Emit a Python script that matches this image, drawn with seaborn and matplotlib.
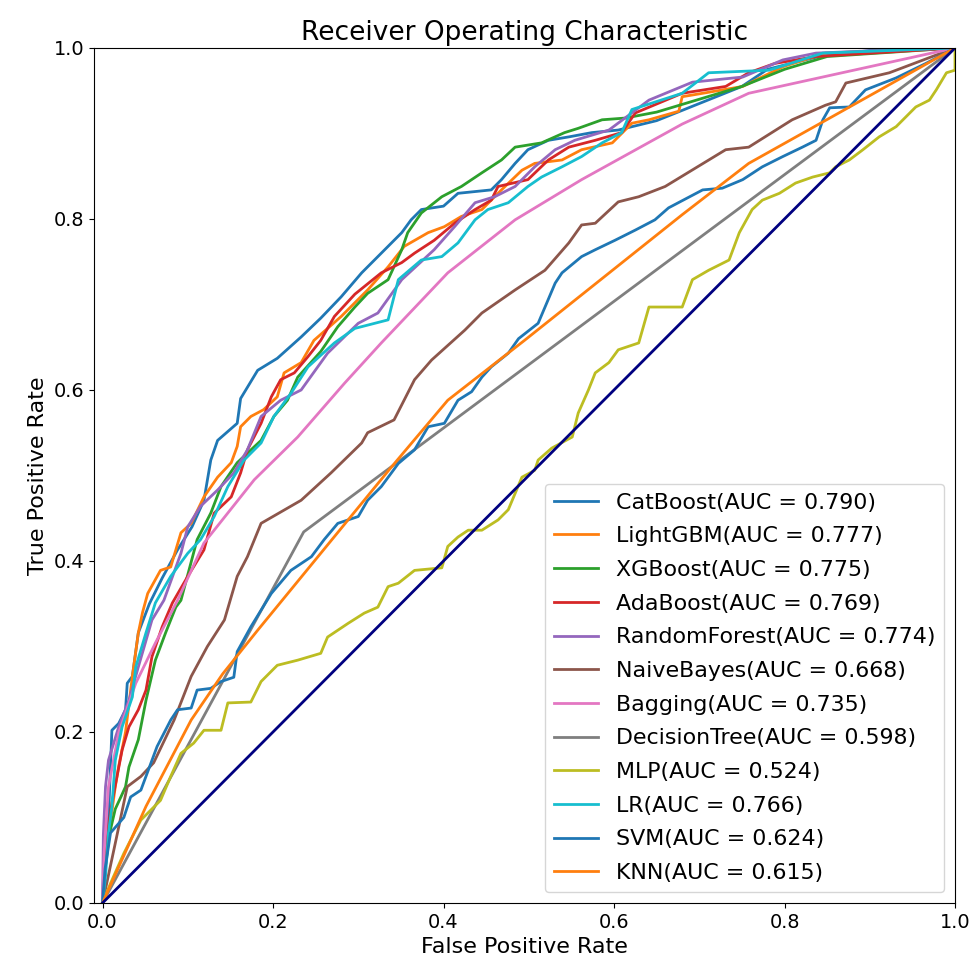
import numpy as np
import pandas as pd
import matplotlib
matplotlib.use("Agg")
import matplotlib.pyplot as plt
import seaborn as sns

# ROC points (fpr, tpr per model)
models = ["CatBoost", "LightGBM", "XGBoost", "AdaBoost", "RandomForest", "NaiveBayes",
          "Bagging", "DecisionTree", "MLP", "LR", "SVM", "KNN"]
aucs = [0.790, 0.777, 0.775, 0.769, 0.774, 0.668, 0.735, 0.598, 0.524, 0.766, 0.624, 0.615]

cat_fpr = [0, 0.002, 0.006, 0.011, 0.019, 0.027, 0.029, 0.035, 0.042, 0.055, 0.07, 0.088, 0.105, 0.119, 0.127,
           0.135, 0.158, 0.162, 0.182, 0.205, 0.233, 0.256, 0.28, 0.304, 0.327, 0.351, 0.362, 0.374, 0.40,
           0.417, 0.456, 0.468, 0.484, 0.499, 0.523, 0.547, 0.574, 0.605, 0.65, 0.70, 0.75, 0.78, 0.84, 0.9, 1]
cat_tpr = [0, 0.05, 0.074, 0.202, 0.21, 0.226, 0.257, 0.265, 0.316, 0.35, 0.38, 0.413, 0.44, 0.471, 0.518,
           0.541, 0.561, 0.59, 0.623, 0.637, 0.662, 0.684, 0.709, 0.737, 0.76, 0.784, 0.799, 0.811, 0.815,
           0.83, 0.834, 0.846, 0.865, 0.881, 0.892, 0.896, 0.901, 0.904, 0.915, 0.935, 0.955, 0.975, 0.99, 0.997, 1]

lgb_fpr = [0, 0.004, 0.01, 0.015, 0.019, 0.027, 0.035, 0.042, 0.047, 0.053, 0.068, 0.08, 0.092, 0.104, 0.119,
           0.135, 0.151, 0.158, 0.162, 0.174, 0.189, 0.205, 0.213, 0.233, 0.248, 0.28, 0.311, 0.335, 0.354,
           0.382, 0.401, 0.421, 0.445, 0.468, 0.492, 0.507, 0.539, 0.562, 0.598, 0.621, 0.641, 0.676, 0.68,
           0.704, 0.751, 0.798, 0.848, 1]
lgb_tpr = [0, 0.05, 0.1, 0.136, 0.16, 0.2, 0.265, 0.316, 0.34, 0.362, 0.389, 0.393, 0.433, 0.444, 0.475,
           0.498, 0.515, 0.534, 0.557, 0.569, 0.577, 0.592, 0.62, 0.632, 0.658, 0.686, 0.717, 0.744, 0.768,
           0.784, 0.791, 0.803, 0.811, 0.834, 0.857, 0.865, 0.869, 0.881, 0.889, 0.912, 0.916, 0.926, 0.943,
           0.947, 0.955, 0.978, 0.994, 1]

xgb_fpr = [0, 0.003, 0.008, 0.015, 0.022, 0.027, 0.031, 0.042, 0.051, 0.062, 0.074, 0.086, 0.092, 0.111,
           0.127, 0.139, 0.158, 0.186, 0.201, 0.217, 0.229, 0.256, 0.276, 0.296, 0.311, 0.335, 0.351, 0.358,
           0.374, 0.398, 0.421, 0.445, 0.468, 0.484, 0.515, 0.542, 0.558, 0.586, 0.613, 0.65, 0.70, 0.75,
           0.80, 0.85, 1]
xgb_tpr = [0, 0.04, 0.08, 0.11, 0.125, 0.136, 0.159, 0.191, 0.237, 0.284, 0.316, 0.346, 0.354, 0.425,
           0.456, 0.487, 0.515, 0.541, 0.569, 0.588, 0.615, 0.645, 0.674, 0.697, 0.713, 0.729, 0.764, 0.784,
           0.807, 0.826, 0.838, 0.854, 0.869, 0.884, 0.889, 0.901, 0.906, 0.916, 0.918, 0.925, 0.94, 0.955,
           0.975, 0.99, 1]

ada_fpr = [0, 0.003, 0.007, 0.011, 0.017, 0.023, 0.031, 0.042, 0.051, 0.058, 0.07, 0.082, 0.1, 0.119, 0.131,
           0.151, 0.162, 0.17, 0.186, 0.198, 0.209, 0.225, 0.241, 0.256, 0.272, 0.296, 0.327, 0.351, 0.366,
           0.389, 0.413, 0.437, 0.456, 0.464, 0.499, 0.523, 0.547, 0.578, 0.609, 0.625, 0.68, 0.731, 0.758,
           0.789, 0.837, 1]
ada_tpr = [0, 0.05, 0.09, 0.117, 0.148, 0.179, 0.206, 0.226, 0.249, 0.288, 0.323, 0.351, 0.382, 0.413, 0.456,
           0.475, 0.503, 0.53, 0.561, 0.592, 0.612, 0.62, 0.639, 0.658, 0.686, 0.712, 0.737, 0.749, 0.76,
           0.775, 0.795, 0.811, 0.822, 0.838, 0.846, 0.869, 0.884, 0.892, 0.901, 0.924, 0.947, 0.955, 0.971,
           0.982, 0.99, 1]

rf_fpr = [0, 0.001, 0.0035, 0.007, 0.019, 0.031, 0.042, 0.058, 0.072, 0.092, 0.10, 0.115, 0.135, 0.154, 0.17,
          0.186, 0.209, 0.233, 0.264, 0.30, 0.323, 0.351, 0.389, 0.413, 0.437, 0.46, 0.484, 0.507, 0.531,
          0.554, 0.594, 0.641, 0.692, 0.751, 0.798, 0.837, 0.935, 1]
rf_tpr = [0, 0.08, 0.136, 0.167, 0.206, 0.237, 0.276, 0.331, 0.354, 0.409, 0.44, 0.464, 0.483, 0.503, 0.53,
          0.569, 0.588, 0.6, 0.643, 0.678, 0.69, 0.729, 0.764, 0.791, 0.819, 0.826, 0.838, 0.861, 0.881,
          0.892, 0.904, 0.939, 0.96, 0.966, 0.986, 0.994, 0.998, 1]

nb_fpr = [0, 0.015, 0.029, 0.045, 0.06, 0.084, 0.104, 0.123, 0.143, 0.158, 0.17, 0.186, 0.233, 0.268, 0.304,
          0.311, 0.342, 0.366, 0.386, 0.425, 0.445, 0.484, 0.519, 0.547, 0.562, 0.578, 0.605, 0.629, 0.66,
          0.731, 0.758, 0.809, 0.848, 0.86, 0.872, 0.923, 1]
nb_tpr = [0, 0.07, 0.136, 0.148, 0.164, 0.214, 0.265, 0.30, 0.331, 0.382, 0.405, 0.444, 0.471, 0.503, 0.538,
          0.55, 0.565, 0.612, 0.635, 0.67, 0.69, 0.717, 0.74, 0.772, 0.793, 0.795, 0.82, 0.826, 0.838,
          0.881, 0.884, 0.916, 0.933, 0.937, 0.959, 0.971, 1]

bag_fpr = [0, 0.002, 0.007, 0.019, 0.039, 0.062, 0.088, 0.119, 0.178, 0.229, 0.284, 0.327, 0.405, 0.484,
           0.562, 0.68, 0.758, 1]
bag_tpr = [0, 0.06, 0.136, 0.199, 0.257, 0.304, 0.354, 0.421, 0.495, 0.545, 0.608, 0.655, 0.737, 0.799,
           0.846, 0.911, 0.947, 1]

dt_fpr = [0, 0.236, 1]
dt_tpr = [0, 0.434, 1]

mlp_fpr = [0, 0.0094, 0.025, 0.045, 0.06, 0.068, 0.08, 0.092, 0.107, 0.119, 0.139, 0.147, 0.174, 0.186, 0.205,
           0.229, 0.256, 0.264, 0.288, 0.307, 0.323, 0.335, 0.347, 0.366, 0.398, 0.405, 0.417, 0.429, 0.445,
           0.464, 0.476, 0.484, 0.492, 0.507, 0.511, 0.527, 0.551, 0.558, 0.57, 0.578, 0.594, 0.605, 0.629,
           0.641, 0.68, 0.692, 0.711, 0.735, 0.747, 0.762, 0.774, 0.794, 0.813, 0.833, 0.853, 0.86, 0.876,
           0.892, 0.911, 0.931, 0.954, 0.97, 0.978, 0.99, 1.0, 1]
mlp_tpr = [0, 0.023, 0.058, 0.097, 0.112, 0.12, 0.148, 0.175, 0.187, 0.202, 0.202, 0.234, 0.235, 0.259, 0.278,
           0.284, 0.292, 0.311, 0.327, 0.339, 0.346, 0.370, 0.374, 0.389, 0.392, 0.417, 0.428, 0.436, 0.436,
           0.448, 0.46, 0.479, 0.498, 0.506, 0.518, 0.532, 0.545, 0.573, 0.60, 0.62, 0.632, 0.647, 0.655,
           0.697, 0.697, 0.729, 0.74, 0.752, 0.784, 0.811, 0.822, 0.83, 0.842, 0.849, 0.854, 0.861, 0.869,
           0.881, 0.896, 0.908, 0.931, 0.939, 0.951, 0.971, 0.974, 1]

lr_fpr = [0, 0.0035, 0.007, 0.011, 0.015, 0.023, 0.035, 0.039, 0.051, 0.062, 0.08, 0.10, 0.115, 0.131, 0.147,
          0.166, 0.186, 0.201, 0.221, 0.241, 0.272, 0.296, 0.335, 0.347, 0.374, 0.398, 0.417, 0.437, 0.452,
          0.476, 0.499, 0.515, 0.539, 0.562, 0.586, 0.609, 0.621, 0.68, 0.711, 0.782, 0.845, 1]
lr_tpr = [0, 0.031, 0.082, 0.113, 0.167, 0.206, 0.241, 0.276, 0.316, 0.351, 0.382, 0.409, 0.425, 0.452, 0.487,
          0.518, 0.538, 0.569, 0.596, 0.627, 0.655, 0.672, 0.682, 0.729, 0.752, 0.756, 0.772, 0.799, 0.811,
          0.819, 0.838, 0.849, 0.861, 0.873, 0.889, 0.901, 0.928, 0.947, 0.971, 0.974, 0.994, 1]

svm_fpr = [0, 0.003, 0.0094, 0.025, 0.033, 0.045, 0.064, 0.08, 0.088, 0.104, 0.111, 0.127, 0.139, 0.154,
           0.158, 0.174, 0.198, 0.221, 0.245, 0.26, 0.276, 0.30, 0.311, 0.327, 0.347, 0.366, 0.382, 0.401,
           0.417, 0.433, 0.445, 0.456, 0.476, 0.488, 0.511, 0.531, 0.539, 0.562, 0.578, 0.601, 0.625, 0.648,
           0.664, 0.704, 0.727, 0.751, 0.774, 0.798, 0.821, 0.837, 0.845, 0.853, 0.876, 0.895, 0.931, 0.966, 1]
svm_tpr = [0, 0.04, 0.082, 0.10, 0.124, 0.132, 0.183, 0.214, 0.226, 0.228, 0.249, 0.251, 0.259, 0.264,
           0.294, 0.323, 0.362, 0.389, 0.405, 0.425, 0.444, 0.452, 0.471, 0.487, 0.514, 0.53, 0.557, 0.561,
           0.588, 0.598, 0.615, 0.627, 0.643, 0.66, 0.678, 0.725, 0.737, 0.756, 0.764, 0.775, 0.787, 0.799,
           0.813, 0.834, 0.836, 0.846, 0.861, 0.873, 0.884, 0.892, 0.916, 0.93, 0.931, 0.951, 0.965, 0.982, 1]

knn_fpr = [0, 0.051, 0.104, 0.141, 0.182, 0.339, 0.405, 0.495, 0.68, 0.758, 1]
knn_tpr = [0, 0.113, 0.214, 0.268, 0.319, 0.51, 0.588, 0.658, 0.805, 0.865, 1]

fprs = [cat_fpr, lgb_fpr, xgb_fpr, ada_fpr, rf_fpr, nb_fpr, bag_fpr, dt_fpr, mlp_fpr, lr_fpr, svm_fpr, knn_fpr]
tprs = [cat_tpr, lgb_tpr, xgb_tpr, ada_tpr, rf_tpr, nb_tpr, bag_tpr, dt_tpr, mlp_tpr, lr_tpr, svm_tpr, knn_tpr]

plt.rcParams['font.size'] = 13.9
colors = sns.color_palette("tab10", 10)
colors = colors + colors[:2]

fig = plt.figure(figsize=(9.73, 9.67), dpi=100)
ax = fig.add_axes([0.0966, 0.0662, 0.8849, 0.8842])

for name, auc, fx, ty, c in zip(models, aucs, fprs, tprs, colors):
    sns.lineplot(x=fx, y=ty, ax=ax, sort=False, estimator=None, color=c, lw=2,
                 label='%s(AUC = %.3f)' % (name, auc))

sns.lineplot(x=[0, 1], y=[0, 1], ax=ax, sort=False, estimator=None, color='navy', lw=2)

ax.set_xlim([-0.01, 1.0])
ax.set_ylim([0.0, 1.0])
ax.set_xlabel('False Positive Rate', fontsize=16)
ax.set_ylabel('True Positive Rate', fontsize=16)
ax.set_title('Receiver Operating Characteristic', fontsize=19)
ax.legend(loc='lower right', fontsize=15.9, labelspacing=0.62)

fig.savefig('out.png', dpi=100)
